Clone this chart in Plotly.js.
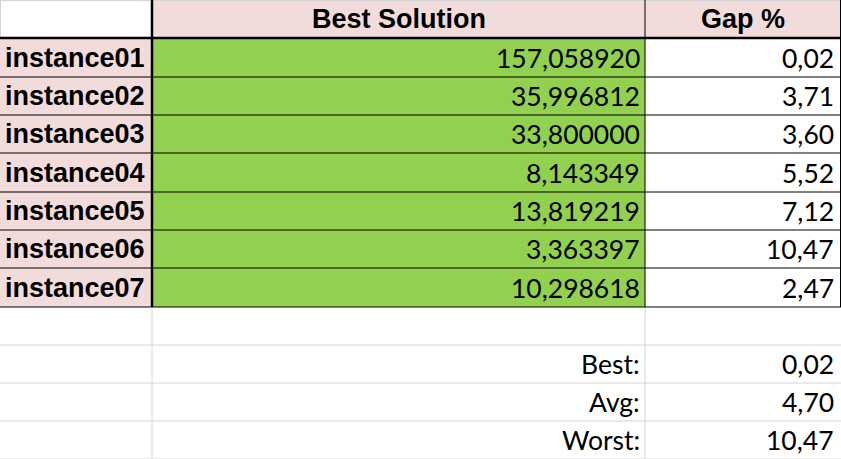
<!DOCTYPE html>
<html>
<head>
<script src="https://cdn.plot.ly/plotly-3.0.1.min.js"></script>
<style>body{margin:0}#chart{width:841px;height:459px}</style>
</head>
<body>
<div id="chart"></div>
<script>
const headers = ["", "Best Solution", "Gap %"];
const instances = ["instance01", "instance02", "instance03", "instance04", "instance05", "instance06", "instance07"];
const bestSolution = ["157,058920", "35,996812", "33,800000", "8,143349", "13,819219", "3,363397", "10,298618"];
const gapPct = ["0,02", "3,71", "3,60", "5,52", "7,12", "10,47", "2,47"];
const summaryLabels = ["Best:", "Avg:", "Worst:"];
const summaryValues = ["0,02", "4,70", "10,47"];

// sheet geometry (pixels)
const colEdges = [0, 152, 645, 841];
const rowEdges = [0, 38, 77, 115, 153, 192, 230, 268, 307, 345, 383, 421, 459];
const pink = "#F2DCDB", green = "#92D050", grid = "#D4D4D4";

const shapes = [];
const rect = (x0, x1, y0, y1, fill) =>
  shapes.push({ type: "rect", x0, x1, y0, y1, fillcolor: fill, line: { width: 0 }, layer: "below" });
const line = (x0, y0, x1, y1, color, width) =>
  shapes.push({ type: "line", x0, y0, x1, y1, line: { color, width } });

// fills
rect(colEdges[1], colEdges[3], rowEdges[0], rowEdges[1], pink);
instances.forEach((_, i) => {
  rect(colEdges[0], colEdges[1], rowEdges[i + 1], rowEdges[i + 2], pink);
  rect(colEdges[1], colEdges[2], rowEdges[i + 1], rowEdges[i + 2], green);
});

// light grid for the empty/summary area
for (let r = 9; r < rowEdges.length; r++) line(0, rowEdges[r], 841, rowEdges[r], grid, 1);
line(colEdges[1], rowEdges[8], colEdges[1], 459, grid, 1);
line(colEdges[2], rowEdges[8], colEdges[2], 459, grid, 1);
line(0, 0.5, 841, 0.5, grid, 1);
line(0.5, 0, 0.5, rowEdges[1], grid, 1);

// table borders
for (let r = 2; r <= 8; r++) line(0, rowEdges[r], 841, rowEdges[r], "#000", 1);
line(colEdges[2], 0, colEdges[2], rowEdges[8], "#000", 1);
line(840.5, 0, 840.5, rowEdges[8], "#000", 1);
line(colEdges[1], 0, colEdges[1], rowEdges[8], "#000", 2.5);
line(0, rowEdges[1], 841, rowEdges[1], "#000", 2.5);

const annotations = [];
const mid = (r) => (rowEdges[r] + rowEdges[r + 1]) / 2;
const bold = { family: "Liberation Sans, Arial", size: 27, color: "#000" };
const num = { family: "Lato, Open Sans", size: 26.5, color: "#000" };
const txt = (text, x, y, xanchor, font) =>
  annotations.push({ text, x, y, xanchor, yanchor: "middle", showarrow: false, font, xref: "x", yref: "y" });

txt("<b>" + headers[1] + "</b>", (colEdges[1] + colEdges[2]) / 2, mid(0), "center", bold);
txt("<b>" + headers[2] + "</b>", (colEdges[2] + colEdges[3]) / 2, mid(0), "center", bold);
instances.forEach((name, i) => {
  txt("<b>" + name + "</b>", 3, mid(i + 1), "left", bold);
  txt(bestSolution[i], 642, mid(i + 1), "right", num);
  txt(gapPct[i], 836, mid(i + 1), "right", num);
});
summaryLabels.forEach((lab, i) => {
  txt(lab, 642, mid(i + 9), "right", num);
  txt(summaryValues[i], 836, mid(i + 9), "right", num);
});

Plotly.newPlot("chart", [], {
  width: 841, height: 459,
  margin: { l: 0, r: 0, t: 0, b: 0 },
  paper_bgcolor: "#fff", plot_bgcolor: "#fff",
  xaxis: { range: [0, 841], visible: false, fixedrange: true },
  yaxis: { range: [459, 0], visible: false, fixedrange: true },
  shapes, annotations, showlegend: false,
}, { displayModeBar: false, staticPlot: true });
</script>
</body>
</html>
